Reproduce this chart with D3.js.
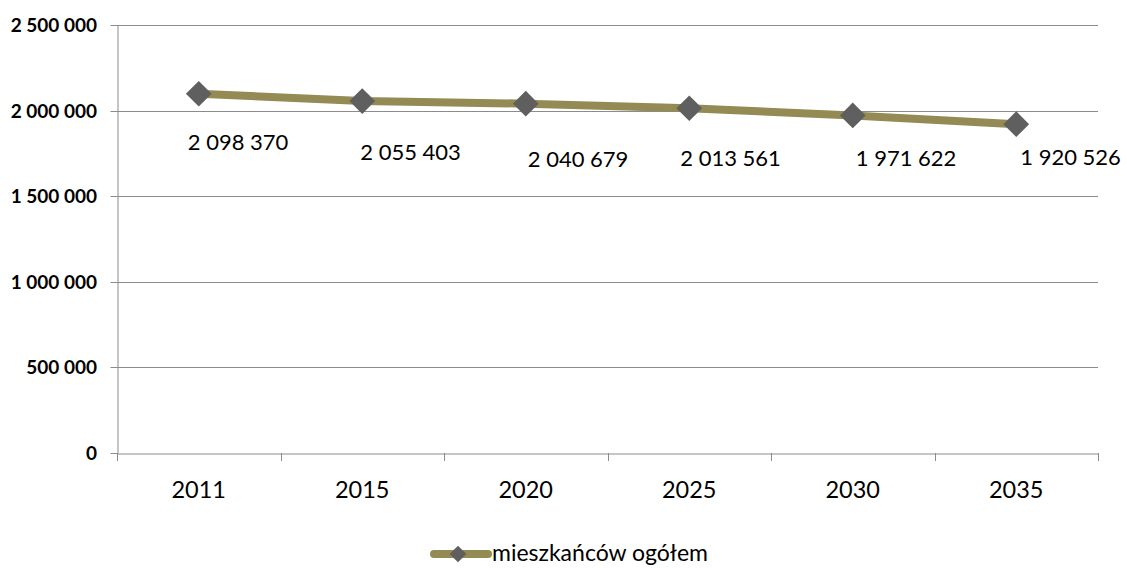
<!DOCTYPE html>
<html>
<head>
<meta charset="utf-8">
<script src="https://cdn.jsdelivr.net/npm/d3@7"></script>
<style>
  html, body { margin: 0; padding: 0; background: #fff; }
  svg { display: block; font-family: Lato, "Open Sans", sans-serif; }
  .grid line { stroke: #8c8c8c; stroke-width: 1; }
  .axis path, .axis line { stroke: #8c8c8c; }
  .ylab { font-size: 19px; font-weight: bold; fill: #000; }
  .xlab { font-size: 23.5px; fill: #000; }
  .dlab { font-size: 22px; fill: #000; }
  .legend text { font-size: 23px; fill: #000; }
</style>
</head>
<body>
<svg id="chart" width="1127" height="568"></svg>
<script>
(function () {
    "use strict";

    // ---- data ----------------------------------------------------
    const years = ["2011", "2015", "2020", "2025", "2030", "2035"];
    const residents = [2098370, 2055403, 2040679, 2013561, 1971622, 1920526];
    const yTicks = [0, 500000, 1000000, 1500000, 2000000, 2500000];
    const seriesName = "mieszkańców ogółem";

    // data label placement (as manually nudged in the source chart)
    const labelDx = [-11, -2, 2, -9, 3, 4];
    const labelDy = [56, 59, 63, 58, 51, 41];

    const LINE = "#948a54";
    const MARK = "#5f5f5f";

    const svg = d3.select("#chart");
    const m = { left: 117, right: 1098, top: 25, bottom: 453 };

    const x = d3.scaleBand().domain(years).range([m.left, m.right]);
    const y = d3.scaleLinear().domain([0, 2500000]).range([m.bottom, m.top]);

    const fmt = v => d3.format(",")(v).replace(/,/g, " ");

    // ---- gridlines ----------------------------------------------
    svg.append("g").attr("class", "grid")
        .selectAll("line")
        .data(yTicks.filter(t => t > 0))
        .join("line")
        .attr("x1", m.left).attr("x2", m.right)
        .attr("y1", d => Math.round(y(d)) + 0.5).attr("y2", d => Math.round(y(d)) + 0.5);

    // ---- y axis --------------------------------------------------
    svg.append("g").attr("class", "axis")
        .attr("transform", `translate(${m.left + 0.5},0)`)
        .call(d3.axisLeft(y).tickValues(yTicks).tickSize(7).tickSizeOuter(0).tickFormat(""))
        .selectAll(".tick")
        .attr("transform", d => `translate(0,${Math.round(y(d)) + 0.5})`);

    svg.append("g").selectAll("text")
        .data(yTicks)
        .join("text")
        .attr("class", "ylab")
        .attr("x", 97)
        .attr("y", d => y(d) + 7)
        .attr("text-anchor", "end")
        .text(d => d === 0 ? "0" : fmt(d));

    // ---- x axis --------------------------------------------------
    const xAxis = svg.append("g").attr("class", "axis")
        .attr("transform", `translate(0,${m.bottom + 0.5})`)
        .call(d3.axisBottom(x).tickSize(0).tickSizeOuter(0).tickFormat(""));
    xAxis.selectAll(".tick").remove();

    // category boundary ticks
    const bounds = years.map(yr => x(yr)).concat([m.right]);
    svg.append("g").selectAll("line")
        .data(bounds)
        .join("line")
        .attr("x1", d => Math.round(d) + 0.5).attr("x2", d => Math.round(d) + 0.5)
        .attr("y1", m.bottom).attr("y2", m.bottom + 8)
        .attr("stroke", "#8c8c8c");

    svg.append("g").selectAll("text")
        .data(years)
        .join("text")
        .attr("class", "xlab")
        .attr("x", d => x(d) + x.bandwidth() / 2)
        .attr("y", 498)
        .attr("text-anchor", "middle")
        .text(d => d);

    // ---- series --------------------------------------------------
    const pts = years.map((yr, i) => ({ yr, v: residents[i], i }));
    const cx = d => x(d.yr) + x.bandwidth() / 2;

    svg.append("path")
        .datum(pts)
        .attr("fill", "none")
        .attr("stroke", LINE)
        .attr("stroke-width", 8)
        .attr("d", d3.line().x(cx).y(d => y(d.v)));

    svg.append("g").selectAll("path")
        .data(pts)
        .join("path")
        .attr("fill", MARK)
        .attr("d", d3.symbol().type(d3.symbolSquare).size(330))
        .attr("transform", d => `translate(${cx(d)},${y(d.v)}) rotate(45)`);

    svg.append("g").selectAll("text")
        .data(pts)
        .join("text")
        .attr("class", "dlab")
        .attr("x", d => cx(d) + labelDx[d.i])
        .attr("y", d => y(d.v) + labelDy[d.i])
        .text(d => fmt(d.v));

    // ---- legend --------------------------------------------------
    const lg = svg.append("g").attr("class", "legend");
    lg.append("line")
        .attr("x1", 434).attr("x2", 488).attr("y1", 554).attr("y2", 554)
        .attr("stroke", LINE).attr("stroke-width", 8).attr("stroke-linecap", "round");
    lg.append("path")
        .attr("d", d3.symbol().type(d3.symbolSquare).size(140))
        .attr("transform", "translate(458,554) rotate(45)")
        .attr("fill", MARK);
    lg.append("text")
        .attr("x", 492).attr("y", 561)
        .text(seriesName);
})();
</script>
</body>
</html>
